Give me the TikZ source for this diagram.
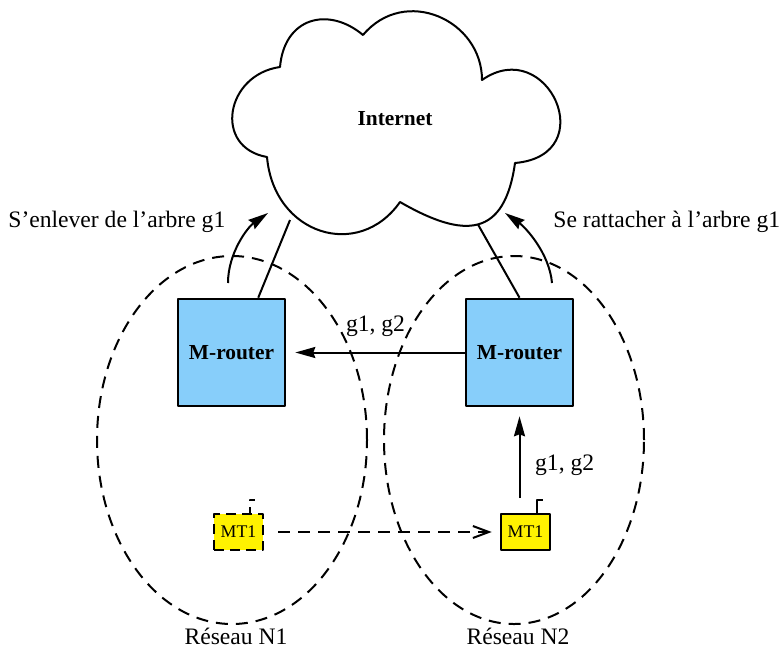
\documentclass[tikz,border=0pt]{standalone}
\usepackage{fontspec}
\setmainfont{Liberation Serif}
\usetikzlibrary{arrows.meta}
\definecolor{routerblue}{HTML}{87CEFA}

\begin{document}
\begin{tikzpicture}[x=0.5pt,y=0.5pt,line join=round,
        font=\fontsize{11.8}{14}\selectfont,
        >={Stealth[length=10pt,width=5.5pt,inset=1pt]},
        link/.style={line width=1pt},
        zone/.style={line width=1pt,dash pattern=on 6pt off 4pt},
        router/.style={draw,line width=1.3pt,fill=routerblue,minimum size=53.5pt,inner sep=0pt,
            font=\fontsize{10.7}{13}\selectfont\bfseries},
        mobile/.style={draw,line width=1.3pt,fill=yellow,minimum width=24.5pt,minimum height=18pt,
            inner sep=0pt,font=\fontsize{8.9}{11}\selectfont}]
    \useasboundingbox (0,0) rectangle (781,-649);
    % reseaux
    \draw[zone] (232,-440) ellipse [x radius=135,y radius=184];
    \draw[zone] (514,-440) ellipse [x radius=130,y radius=184];
    \node (nA) at (236,-636) {Réseau N1};
    \node (nB) at (518,-636) {Réseau N2};
    % routeurs et terminaux
    \node[router] (rtA) at (231.5,-352.5) {M-router};
    \node[router] (rtB) at (519.5,-352.5) {M-router};
    \node[mobile,dash pattern=on 5pt off 3pt] (mtA) at (238.5,-532) {MT1};
    \node[mobile] (mtB) at (525.5,-532) {MT1};
    \draw[link,dash pattern=on 3pt off 3pt] ([xshift=5.75pt]mtA.north) -- ++(0,13) -- ++(6,0);
    \draw[link] ([xshift=5.75pt]mtB.north) -- ++(0,13) -- ++(6,0);
    % liens vers Internet
    \coordinate (clA) at (290,-220);
    \coordinate (clB) at (476,-221);
    \draw[link] (rtA.64) -- (clA);
    \draw[link] (rtB.north) -- (clB);
    % nuage
    \draw[link,fill=white] (280,-67)
        .. controls +(85:50) and +(140:45) .. (363,-35)
        .. controls +(50:65) and +(90:60) .. (482,-80)
        .. controls +(35:80) and +(5:88) .. (515,-163)
        .. controls +(262:75) and +(330:75) .. (400,-202)
        .. controls +(235:72) and +(275:78) .. (267,-157)
        .. controls +(170:55) and +(188:55) .. (280,-67) -- cycle;
    \node[font=\fontsize{10.7}{13}\selectfont\bfseries] (inet) at (395,-119) {Internet};
    % flux g1, g2
    \draw[link,->,shorten >=4.5pt] (rtB.west) -- (rtA.east) node[midway,above=4pt] {g1, g2};
    \coordinate (mtUp) at (519.5,-498);
    \draw[link,->,shorten >=4.5pt] (mtUp) -- (rtB.south) node[pos=0.36,right=4pt] {g1, g2};
    \draw[link,dash pattern=on 6pt off 4pt,-{Straight Barb[length=8pt,width=6pt]},
        shorten <=7pt,shorten >=4pt] (mtA.east) -- (mtB.west);
    % arbre g1
    \coordinate (lvA) at (228,-283);
    \coordinate (lvB) at (268,-213);
    \draw[link,->] (lvA) .. controls +(90:30) and +(215:25) .. (lvB);
    \node[anchor=west,inner sep=0pt] (lvTxt) at (8,-222) {S’enlever de l’arbre g1};
    \coordinate (raA) at (552,-283);
    \coordinate (raB) at (505,-213);
    \draw[link,->] (raA) .. controls +(95:30) and +(-35:25) .. (raB);
    \node[anchor=west,inner sep=0pt] (raTxt) at (553,-222) {Se rattacher à l’arbre g1};
\end{tikzpicture}
\end{document}
